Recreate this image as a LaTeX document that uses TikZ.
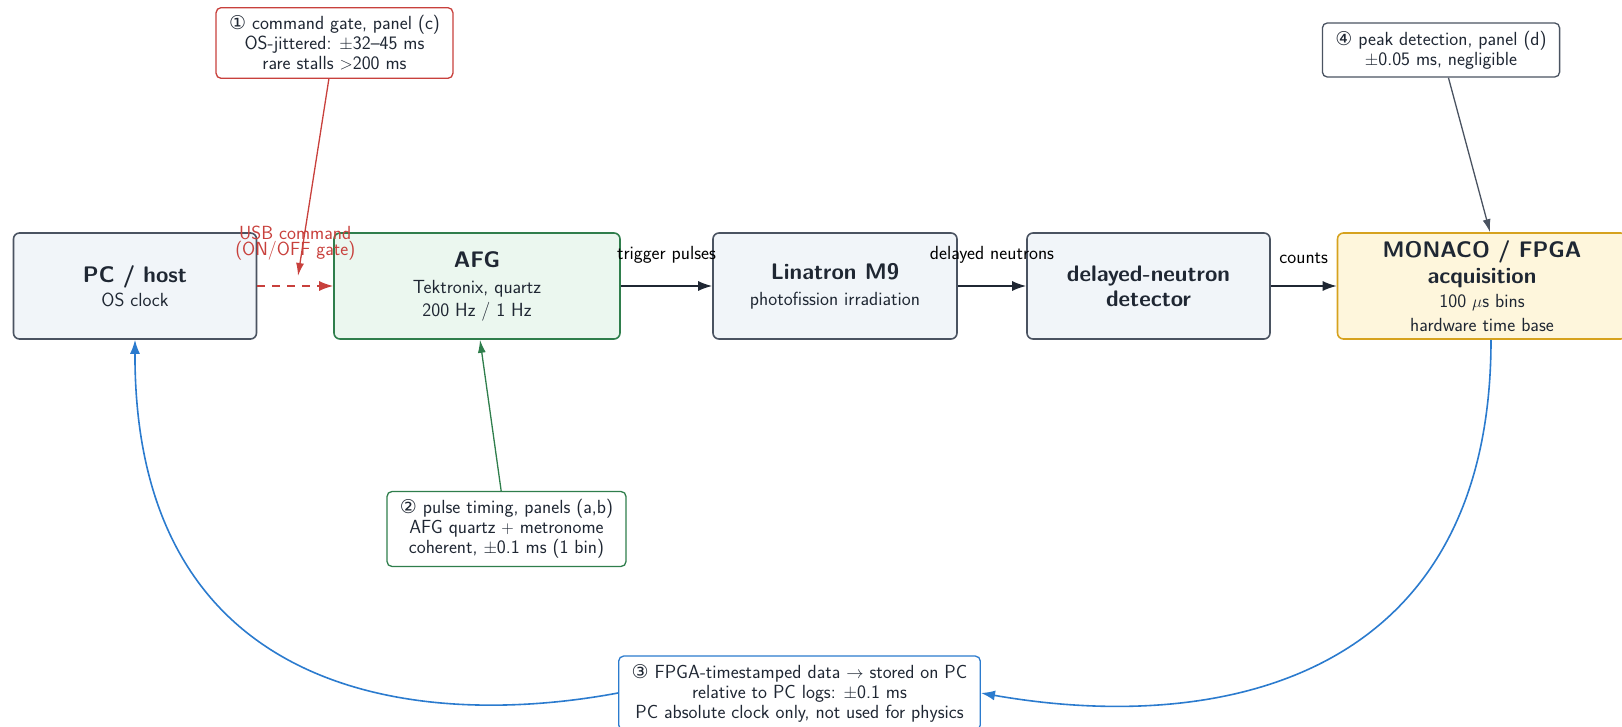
\documentclass[tikz,border=0pt]{standalone}
\usepackage{fontspec}
\newfontfamily\circfont{DejaVu Sans}
\usetikzlibrary{arrows.meta}
\usetikzlibrary{positioning, calc}
\definecolor{inkdark}{HTML}{1F2733}
\definecolor{unitfill}{HTML}{F1F5F9}
\definecolor{unitline}{HTML}{4A5361}
\definecolor{afgfill}{HTML}{EBF7EF}
\definecolor{afgline}{HTML}{2F7E4C}
\definecolor{fpgafill}{HTML}{FEF6DC}
\definecolor{fpgaline}{HTML}{D6A21E}
\definecolor{usbred}{HTML}{C8403C}
\definecolor{datablue}{HTML}{2B7BCE}

\begin{document}
\begin{tikzpicture}[x=1pt,y=-1pt,
  font=\sffamily\fontsize{19}{20}\selectfont, text=inkdark,
  unit/.style={draw=unitline, fill=unitfill, line width=1.6pt, rounded corners=6pt,
    minimum width=243pt, minimum height=106pt, align=center, inner sep=0pt},
  note/.style={draw=#1, fill=white, line width=1.3pt, rounded corners=5pt,
    align=center, inner xsep=13pt, inner ysep=8pt},
  flow/.style={draw=inkdark, line width=1.6pt, -{Latex[length=14pt,width=10pt]}},
  lbl/.style={midway, above=22pt, inner sep=0pt, text=black},
  pointer/.style={line width=1.3pt, -{Latex[length=13pt,width=8pt]}}
  ]
  \def\ttl#1{{\fontsize{22.5}{24}\selectfont\bfseries #1}}
  \def\num#1{{\circfont #1}}
  \clip (0,0) rectangle (1622,727);

  \node[unit] (pc) at (135,286) {\ttl{PC / host}\\[4pt]OS clock};
  \node[unit, draw=afgline, fill=afgfill, minimum width=286pt] (afg) at (477,286)
    {\ttl{AFG}\\[6pt]Tektronix, quartz\\[3pt]200 Hz / 1 Hz};
  \node[unit, minimum width=244pt] (lin) at (835,286)
    {\ttl{Linatron M9}\\[6pt]photofission irradiation};
  \node[unit] (det) at (1148.5,286) {\ttl{delayed-neutron}\\[4pt]\ttl{detector}};
  \node[unit, draw=fpgaline, fill=fpgafill, minimum width=289pt] (fpga) at (1482,286)
    {\ttl{MONACO / FPGA}\\[4pt]\ttl{acquisition}\\[4pt]100 $\mu$s bins\\[4pt]hardware time base};

  \node[note=usbred] (gate) at (334.5,43)
    {\num{①} command gate, panel (c)\\OS-jittered: $\pm$32--45 ms\\rare stalls $>$200 ms};
  \node[note=afgline] (pulse) at (506.5,529)
    {\num{②} pulse timing, panels (a,b)\\AFG quartz $+$ metronome\\coherent, $\pm$0.1 ms (1 bin)};
  \node[note=datablue] (store) at (799.5,693)
    {\num{③} FPGA-timestamped data $\rightarrow$ stored on PC\\relative to PC logs: $\pm$0.1 ms\\PC absolute clock only, not used for physics};
  \node[note=unitline] (peak) at (1441,50)
    {\num{④} peak detection, panel (d)\\$\pm$0.05 ms, negligible};

  \draw[flow, draw=usbred, dash pattern=on 8pt off 7pt] (pc) -- node[lbl, above=25pt, text=usbred,
    font=\sffamily\fontsize{19}{16}\selectfont, align=center]{USB command\\(ON/OFF gate)} (afg);
  \draw[flow] (afg) -- node[lbl]{trigger pulses} (lin);
  \draw[flow] (lin) -- node[lbl]{delayed neutrons} (det);
  \draw[flow] (det) -- node[lbl]{counts} (fpga);

  \coordinate (usbtip) at (298,276);
  \draw[pointer, draw=usbred] (gate) -- (usbtip);
  \draw[pointer, draw=afgline] (pulse) -- ([xshift=3pt]afg.south);
  \draw[pointer, draw=unitline] (peak) -- ([xshift=8pt]fpga.north);

  \draw[flow, draw=datablue] ([xshift=9pt]fpga.south) .. controls (1491,680) and (1220,735) .. (store.east);
  \draw[flow, draw=datablue] (store.west) .. controls (420,730) and (134,700) .. (pc.south);
\end{tikzpicture}
\end{document}
